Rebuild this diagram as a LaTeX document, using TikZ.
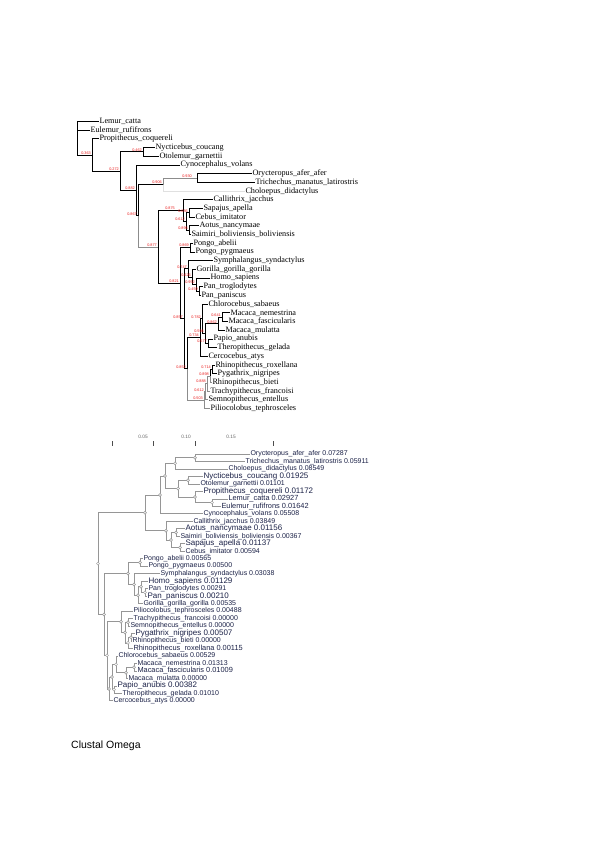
\documentclass[tikz,border=0pt]{standalone}
\usepackage{fontspec}
\setmainfont{Liberation Serif}
\newfontfamily\treeSans{Liberation Sans}
\usepackage{xcolor}
\usepackage{tikz}
\usetikzlibrary{calc,positioning}

\definecolor{bootRed}{RGB}{235,25,25}
\definecolor{branchGray}{RGB}{150,150,150}
\definecolor{leafInk}{RGB}{28,34,72}

\newcommand{\topFirstY}{121.5}
\newcommand{\topStep}{8.7}
\newcommand{\botFirstY}{454}
\newcommand{\botStep}{7.48}

\newcommand{\topLeaves}{1/99/Lemur\_catta, 2/90/Eulemur\_rufifrons, 3/99/Propithecus\_coquereli, 4/155/Nycticebus\_coucang, 5/159/Otolemur\_garnettii, 6/180/Cynocephalus\_volans, 7/252/Orycteropus\_afer\_afer, 8/255/Trichechus\_manatus\_latirostris, 9/245/Choloepus\_didactylus, 10/213/Callithrix\_jacchus, 11/203/Sapajus\_apella, 12/195/Cebus\_imitator, 13/199/Aotus\_nancymaae, 14/191/Saimiri\_boliviensis\_boliviensis, 15/193/Pongo\_abelii, 16/195/Pongo\_pygmaeus, 17/213/Symphalangus\_syndactylus, 18/196/Gorilla\_gorilla\_gorilla, 19/210/Homo\_sapiens, 20/203/Pan\_troglodytes, 21/201/Pan\_paniscus, 22/208/Chlorocebus\_sabaeus, 23/230/Macaca\_nemestrina, 24/228/Macaca\_fascicularis, 25/225/Macaca\_mulatta, 26/213/Papio\_anubis, 27/217/Theropithecus\_gelada, 28/208/Cercocebus\_atys, 29/215/Rhinopithecus\_roxellana, 30/217/Pygathrix\_nigripes, 31/212/Rhinopithecus\_bieti, 32/210/Trachypithecus\_francoisi, 33/208/Semnopithecus\_entellus, 34/210/Piliocolobus\_tephrosceles}

\newcommand{\botLeaves}{1/250/7.0/Orycteropus\_afer\_afer 0.07287, 2/245/7.0/Trichechus\_manatus\_latirostris 0.05911, 3/228/7.0/Choloepus\_didactylus 0.08549, 4/203/8.0/Nycticebus\_coucang 0.01925, 5/200/7.0/Otolemur\_garnettii 0.01101, 6/203/8.0/Propithecus\_coquereli 0.01172, 7/228/7.4/Lemur\_catta 0.02927, 8/221/7.4/Eulemur\_rufifrons 0.01642, 9/203/7.0/Cynocephalus\_volans 0.05508, 10/193/7.0/Callithrix\_jacchus 0.03849, 11/185/8.0/Aotus\_nancymaae 0.01156, 12/180/7.0/Saimiri\_boliviensis\_boliviensis 0.00367, 13/185/8.0/Sapajus\_apella 0.01137, 14/185/7.0/Cebus\_imitator 0.00594, 15/143/7.0/Pongo\_abelii 0.00565, 16/148/7.0/Pongo\_pygmaeus 0.00500, 17/160/7.0/Symphalangus\_syndactylus 0.03038, 18/148/8.0/Homo\_sapiens 0.01129, 19/148/7.0/Pan\_troglodytes 0.00291, 20/147/8.0/Pan\_paniscus 0.00210, 21/143/7.0/Gorilla\_gorilla\_gorilla 0.00535, 22/133/7.0/Piliocolobus\_tephrosceles 0.00488, 23/133/7.0/Trachypithecus\_francoisi 0.00000, 24/130/7.0/Semnopithecus\_entellus 0.00000, 25/135/8.0/Pygathrix\_nigripes 0.00507, 26/132/7.0/Rhinopithecus\_bieti 0.00000, 27/133/7.4/Rhinopithecus\_roxellana 0.00115, 28/118/7.0/Chlorocebus\_sabaeus 0.00529, 29/137/7.0/Macaca\_nemestrina 0.01313, 30/137/7.4/Macaca\_fascicularis 0.01009, 31/128/7.0/Macaca\_mulatta 0.00000, 32/117/8.0/Papio\_anubis 0.00382, 33/122/7.0/Theropithecus\_gelada 0.01010, 34/113/7.0/Cercocebus\_atys 0.00000}

\tikzset{
	topedge/.style={line width=1pt, black},
	topfaint/.style={line width=0.9pt, black!45},
	topghost/.style={line width=0.6pt, black!12},
	toplabel/.style={anchor=west, inner sep=0.3pt, font=\fontsize{8.2}{9}\selectfont},
	bootlabel/.style={anchor=south east, inner sep=0.2pt, xshift=-0.8pt, yshift=0.3pt, text=bootRed, font=\treeSans\fontsize{3.8}{4}\selectfont},
	botedge/.style={line width=0.7pt, branchGray},
	botlabel/.style={anchor=west, inner sep=0.3pt, text=leafInk},
	nodedot/.style={circle, draw=branchGray, fill=white, line width=0.5pt, inner sep=0pt, minimum size=3pt},
	axislabel/.style={text=black!60, inner sep=0pt, font=\treeSans\fontsize{4.8}{5}\selectfont},
}

\begin{document}
\begin{tikzpicture}[x=1pt,y=-1pt]
	\path[use as bounding box, fill=white] (0,0) rectangle (600,848);

	% upper tree: serif labels with red support values
	\foreach \i/\xs/\name in \topLeaves
	{
		\node[toplabel] (t\i) at (\xs,{\topFirstY+(\i-1)*\topStep}) {\name};
	}
	\foreach \n/\xs/\ys in {nR/77/138.27, nA/92/155.03, nB/120/171.17, nNO/143/151.95, nC/136/190.39, nCb/138/215.78, nD/163/184.58, nAT/197/178.05, nE/158/246.97, nNWa/183/210.68, nNWb/186/221.55, nSC/189/212.85, nAS/189/230.25, nEb/180/283.27, nPO/190/247.65, nF/184/318.88, nH/188/268.86, nHG/192/277.01, nHP/196/284.63, nPAN/199/291.15, nOW/187/368.9, nCE0/200/337.64, nCE1/202/318.88, nCE2/205/333.56, nMAC/218/323.78, nMNF/222/317.25, nCE3/208/343.35, nCOL/204/400.17, nCO0/205/391.74, nCO1/207/383.59, nCO2/210/375.98, nCO3/212/369.45}
		\coordinate (\n) at (\xs,\ys);

	\foreach \p/\c in {nR/t1.west, nR/t2.west, nR/nA, nA/t3.west, nA/nB, nB/nNO, nB/nC, nNO/t4.west, nNO/t5.west, nC/t6.west, nC/nCb, nCb/nD, nAT/t7.west, nAT/t8.west, nE/nNWa, nE/nEb, nNWa/t10.west, nNWa/nNWb, nNWb/nSC, nNWb/nAS, nSC/t11.west, nSC/t12.west, nAS/t13.west, nAS/t14.west, nEb/nPO, nEb/nF, nPO/t15.west, nPO/t16.west, nF/nH, nF/nOW, nH/t17.west, nH/nHG, nHG/t18.west, nHG/nHP, nHP/t19.west, nHP/nPAN, nPAN/t20.west, nPAN/t21.west, nOW/nCE0, nCE0/nCE1, nCE0/t28.west, nCE1/t22.west, nCE1/nCE2, nCE2/nMAC, nCE2/nCE3, nMAC/nMNF, nMAC/t25.west, nMNF/t23.west, nMNF/t24.west, nCE3/t26.west, nCE3/t27.west, nCO2/nCO3, nCO3/t29.west, nCO3/t30.west}
		\draw[topedge] (\p) |- (\c);
	\foreach \p/\c in {nCb/nE, nD/nAT, nOW/nCOL, nCOL/nCO0, nCOL/t34.west, nCO0/nCO1, nCO0/t33.west, nCO1/nCO2, nCO1/t32.west, nCO2/t31.west}
		\draw[topfaint] (\p) |- (\c);
	\draw[topghost] (nD) |- (t9.west);

	\foreach \n/\v/\dx in {nA/0.363/0, nB/0.272/0, nNO/0.462/0, nC/0.882/0, nCb/0.867/0, nD/0.906/0, nAT/0.930/-4, nE/0.877/0, nNWa/0.875/-7, nNWb/0.612/0, nSC/0.686/0, nAS/0.896/0, nPO/0.869/0, nEb/0.821/0, nF/0.857/0, nH/0.747/0, nHG/0.626/0, nHP/0.952/0, nPAN/0.459/0, nOW/0.852/0, nCE0/0.734/0, nCE1/0.782/0, nCE2/0.594/0, nMAC/0.862/0, nMNF/0.641/0, nCE3/0.577/0, nCOL/0.503/0, nCO0/0.612/0, nCO1/0.888/0, nCO2/0.898/0, nCO3/0.714/0}
		\node[bootlabel, xshift=\dx pt] (lab\n) at (\n) {\v};

	% lower tree: distance scale
	\foreach \tx in {112,153,195,273}
		\draw[black!70, line width=0.6pt] (\tx,441) -- (\tx,445.5);
	\node[axislabel] (tick1) at (143,437) {0.05};
	\node[axislabel] (tick2) at (186,437) {0.10};
	\node[axislabel] (tick3) at (231,437) {0.15};

	% lower tree: sans labels with branch lengths
	\foreach \i/\xs/\sz/\name in \botLeaves
	{
		\node[botlabel, font=\treeSans\fontsize{\sz}{\sz}\selectfont] (b\i) at (\xs,{\botFirstY+(\i-1)*\botStep}) {\name};
	}
	\foreach \n/\xs/\ys in {bAfro/195/457.74, bAX/175/463.35, bLor/188/480.18, bLemB/212/502.62, bLem/195/497.01, bStrep/178/488.6, bGa/165/475.97, bGb/160/494.9, bAS/176/532.54, bSC/180/547.5, bPlB/171/540.02, bPl/166/530.67, bU/145/512.79, bPongo/140/562.46, bPan/145/592.38, bHP/141/586.77, bHPG/138/595.19, bHom/134/584.43, bApe/128/573.45, bPR/131/637.26, bPRR/128/642.87, bTS/128/622.3, bColB/125/632.59, bCol/121/621.84, bNF/134/667.18, bMac/126/672.79, bChl/116/664.38, bPT/114/689.62, bCer/112/677.0, bCerc/109/688.92, bOwm/107/655.38, bCat/104/614.42, bRoot/98/563.6}
		\coordinate (\n) at (\xs,\ys);

	\foreach \p/\c in {bAfro/b1.west, bAfro/b2.west, bAX/bAfro, bAX/b3.west, bLor/b4.west, bLor/b5.west, bLemB/b7.west, bLemB/b8.west, bLem/b6.west, bLem/bLemB, bStrep/bLor, bStrep/bLem, bGa/bAX, bGa/bStrep, bGb/bGa, bGb/b9.west, bAS/b11.west, bAS/b12.west, bSC/b13.west, bSC/b14.west, bPlB/bAS, bPlB/bSC, bPl/b10.west, bPl/bPlB, bU/bGb, bU/bPl, bPongo/b15.west, bPongo/b16.west, bPan/b19.west, bPan/b20.west, bHP/b18.west, bHP/bPan, bHPG/bHP, bHPG/b21.west, bHom/b17.west, bHom/bHPG, bApe/bPongo, bApe/bHom, bPR/b25.west, bPR/b26.west, bPRR/bPR, bPRR/b27.west, bTS/b23.west, bTS/b24.west, bColB/bTS, bColB/bPRR, bCol/b22.west, bCol/bColB, bNF/b29.west, bNF/b30.west, bMac/bNF, bMac/b31.west, bChl/b28.west, bChl/bMac, bPT/b32.west, bPT/b33.west, bCer/bChl, bCer/bPT, bCerc/bCer, bCerc/b34.west, bOwm/bCol, bOwm/bCerc, bCat/bApe, bCat/bOwm, bRoot/bU, bRoot/bCat}
		\draw[botedge] (\p) |- (\c);

	\foreach \n in {bAfro, bAX, bLor, bLemB, bLem, bStrep, bGa, bGb, bAS, bSC, bPlB, bPl, bU, bPongo, bPan, bHP, bHPG, bHom, bApe, bPR, bPRR, bTS, bColB, bCol, bNF, bMac, bChl, bPT, bCer, bCerc, bOwm, bCat, bRoot}
		\node[nodedot] (dot\n) at (\n) {};

	\node[anchor=west, inner sep=0pt, font=\treeSans\fontsize{10.5}{12}\selectfont] (clustalTitle) at (71,746) {Clustal Omega};
\end{tikzpicture}
\end{document}
